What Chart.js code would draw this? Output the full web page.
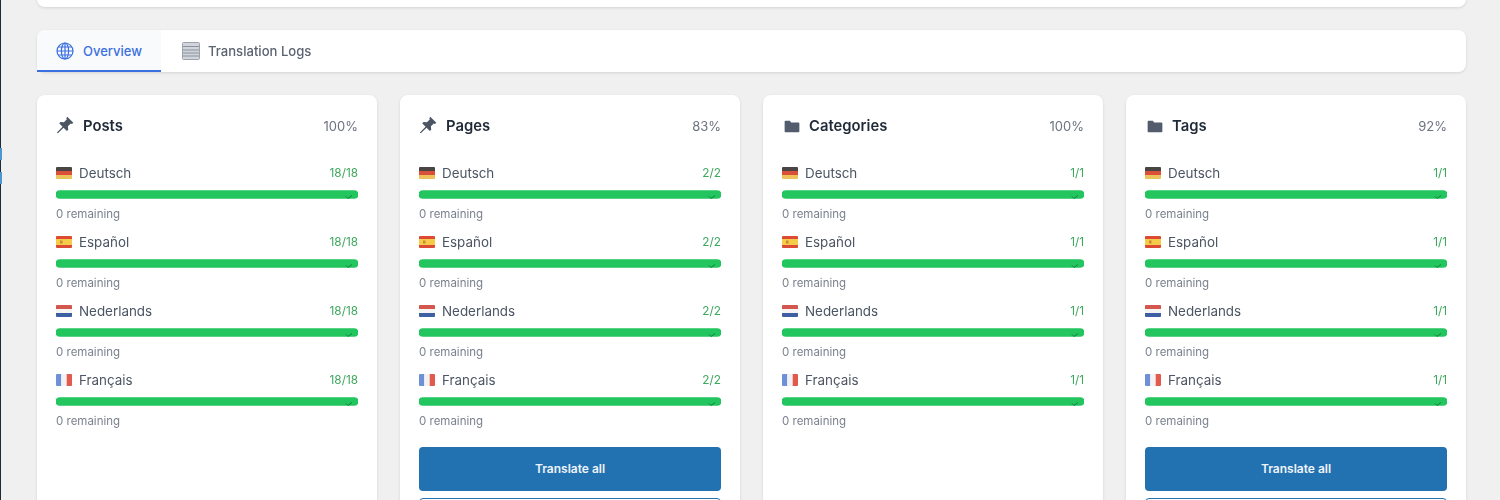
<!DOCTYPE html>
<html><head><meta charset="utf-8">
<script src="https://cdn.jsdelivr.net/npm/chart.js@4"></script>
<style>
html,body{margin:0;padding:0;width:1500px;height:500px;overflow:hidden;background:#f0f0f0;font-family:Inter,"Noto Sans",sans-serif;color:#374151}
.abs{position:absolute}
#page{position:absolute;left:0;top:0;width:1500px;height:500px;overflow:hidden;filter:blur(.35px)}
.panel{background:#fff;box-shadow:0 1px 3px rgba(0,0,0,.12);border-radius:8px}
.t{position:absolute;white-space:nowrap;line-height:16px}
.lang{font-size:13.4px;color:#4b5563}
.count{font-size:11.8px;color:#3fa85f;text-align:right;right:19px}
.rem{font-size:11.5px;color:#7b828e}
.btn{position:absolute;left:19px;width:302px;border-radius:4px;box-sizing:border-box}
canvas{display:block}
</style></head>
<body>
<div id="page">
<div class="abs" style="left:0;top:0;width:1px;height:500px;background:#1f2937"></div>
<div class="abs" style="left:0;top:148px;width:2px;height:12px;background:#4f97cf"></div>
<div class="abs" style="left:0;top:172px;width:2px;height:12px;background:#4f97cf"></div>
<div class="abs panel" style="left:37px;top:-40px;width:1429px;height:47px"></div>
<div class="abs panel" style="left:37px;top:30px;width:1429px;height:42px">
  <div class="abs" style="left:0;top:0;width:124px;height:42px;background:#f8fafc;border-radius:8px 0 0 0"></div>
  <div class="abs" style="left:0;top:40px;width:124px;height:2px;background:#3b6fe0"></div>
  <svg class="abs" style="left:19px;top:12px" width="18" height="18" viewBox="0 0 18 18" fill="none" stroke="#3b6fe0" stroke-width="1.2"><circle cx="9" cy="9" r="8"/><ellipse cx="9" cy="9" rx="3.6" ry="8"/><path d="M9 1v16M1 9h16M2 5h14M2 13h14"/></svg>
  <div class="t" style="left:46px;top:13px;font-size:13px;font-weight:500;color:#3b6fe0">Overview</div>
  <svg class="abs" style="left:145px;top:12px" width="18" height="18" viewBox="0 0 18 18"><rect x=".5" y=".5" width="17" height="17" rx="1" fill="#d1d5db" stroke="#9ca3af"/><path d="M1 4.5h16M1 8h16M1 11h16M1 14h16" stroke="#8b929c" stroke-width="1"/></svg>
  <div class="t" style="left:171px;top:13px;font-size:13.1px;font-weight:500;color:#5b6470">Translation Logs</div>
</div>
<div id="cards"></div>
</div>
<script>
const languages = ["Deutsch", "Español", "Nederlands", "Français"];
const cardTitles = ["Posts", "Pages", "Categories", "Tags"];
const cardPercents = ["100%", "83%", "100%", "92%"];
const cardIcons = ["pin", "pin", "folder", "folder"];
const cardButtons = [false, true, false, true];
const postsDone = [18, 18, 18, 18];
const pagesDone = [2, 2, 2, 2];
const categoriesDone = [1, 1, 1, 1];
const tagsDone = [1, 1, 1, 1];
const cardTotals = [18, 2, 1, 1];
const remaining = [0, 0, 0, 0];
const buttonLabel = "Translate all";
const cardSeries = [postsDone, pagesDone, categoriesDone, tagsDone];

const flagSvg = [
 '<rect width="16" height="4" fill="#4a4442"/><rect y="4" width="16" height="4" fill="#d9503a"/><rect y="8" width="16" height="4" fill="#eec25a"/>',
 '<rect width="16" height="12" fill="#dc4a34"/><rect y="3" width="16" height="6" fill="#f5cb4a"/><rect x="4" y="4.5" width="2.5" height="3" fill="#c98a30"/>',
 '<rect width="16" height="4" fill="#d4574f"/><rect y="4" width="16" height="4" fill="#f6f3f3"/><rect y="8" width="16" height="4" fill="#3f5fa5"/>',
 '<rect width="5.3" height="12" fill="#6f8fd6"/><rect x="5.3" width="5.4" height="12" fill="#f2f2f5"/><rect x="10.7" width="5.3" height="12" fill="#e25a4c"/>'
];
const icons = {
 pin:'<svg class="abs" style="left:18px;top:20px" width="20" height="20" viewBox="0 0 18 18" fill="#4b5563"><path d="M11 1.5l5.5 5.5-1.3 1-1-.4-2.6 2.6.3 3-1.2 1.2-3-3-5.2 5.1-.8-.7 5.1-5.3-3-3 1.2-1.2 3 .3 2.6-2.6-.4-1z"/></svg>',
 folder:'<svg class="abs" style="left:21px;top:25px" width="16" height="13" viewBox="0 0 17 15" fill="#525c6c"><path d="M0 2a1 1 0 0 1 1-1h5l1.5 2H16a1 1 0 0 1 1 1v9a1 1 0 0 1-1 1H1a1 1 0 0 1-1-1z"/></svg>'
};
const cardLefts = [37, 400, 763, 1126];
const root = document.getElementById('cards');

cardTitles.forEach((title, c) => {
  const card = document.createElement('div');
  card.className = 'abs panel';
  card.style.cssText = `left:${cardLefts[c]}px;top:95px;width:340px;height:440px`;
  let html = icons[cardIcons[c]] +
    `<div class="t" style="left:46px;top:23px;font-size:14.8px;font-weight:600;color:#1f2937">${title}</div>` +
    `<div class="t" style="right:19px;top:23px;font-size:13px;color:#6b7280">${cardPercents[c]}</div>`;
  languages.forEach((lang, i) => {
    const y = 70 + 69 * i;
    html += `<svg class="abs" style="left:19px;top:${y + 2}px;border-radius:1px" width="16" height="12" viewBox="0 0 16 12">${flagSvg[i]}</svg>` +
      `<div class="t lang" style="left:42px;top:${y}px">${lang}</div>` +
      `<div class="t count" style="top:${y}px">${cardSeries[c][i]}/${cardTotals[c]}</div>` +
      `<div class="t rem" style="left:19px;top:${y + 41}px">${remaining[i]} remaining</div>`;
  });
  if (cardButtons[c]) {
    html += `<div class="btn" style="top:352px;height:44px;background:#2271b1;color:#eef4fa;font-size:12px;font-weight:600;text-align:center;line-height:44px">${buttonLabel}</div>` +
      `<div class="btn" style="top:403px;height:44px;background:#fff;border:1px solid #2271b1"></div>`;
  }
  card.innerHTML = html;
  const wrap = document.createElement('div');
  wrap.className = 'abs';
  wrap.style.cssText = 'left:19px;top:65px;width:302px;height:276px';
  const canvas = document.createElement('canvas');
  wrap.appendChild(canvas);
  card.appendChild(wrap);
  root.appendChild(card);

  const tick = {
    id: 'tick',
    afterDatasetsDraw(ch) {
      const g = ch.ctx, xs = ch.scales.x, ys = ch.scales.y;
      g.save();
      g.strokeStyle = '#15803d';
      g.lineWidth = 1;
      cardSeries[c].forEach((v, i) => {
        const x = xs.getPixelForValue(v) - 9, y = ys.getPixelForValue(i);
        g.beginPath();
        g.moveTo(x - 3, y + 2);
        g.lineTo(x - 1, y + 4);
        g.lineTo(x + 3, y + 1);
        g.stroke();
      });
      g.restore();
    }
  };
  new Chart(canvas, {
    type: 'bar',
    data: {
      labels: languages,
      datasets: [{
        data: cardSeries[c],
        backgroundColor: '#22c55e',
        borderRadius: 4,
        borderSkipped: false,
        barThickness: 8
      }]
    },
    options: {
      indexAxis: 'y',
      responsive: true,
      maintainAspectRatio: false,
      animation: false,
      layout: { padding: 0 },
      plugins: { legend: { display: false }, tooltip: { enabled: false } },
      scales: {
        x: { display: false, min: 0, max: cardTotals[c] },
        y: { display: false }
      }
    },
    plugins: [tick]
  });
});
</script>
</body></html>
